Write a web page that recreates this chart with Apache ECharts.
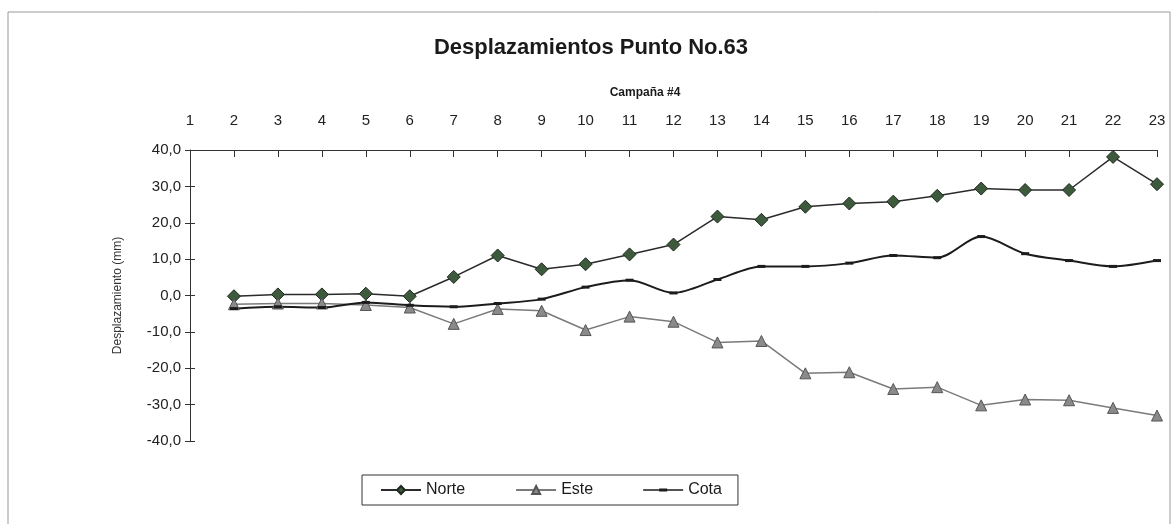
<!DOCTYPE html>
<html>
<head>
<meta charset="utf-8">
<script src="https://cdn.jsdelivr.net/npm/echarts@6/dist/echarts.min.js"></script>
<style>
  html, body { margin: 0; padding: 0; background: #fff; }
  #chart { width: 1173px; height: 524px; }
</style>
</head>
<body>
<div id="chart"></div>
<script>
// datos
var campanas = ['1', '2', '3', '4', '5', '6', '7', '8', '9', '10', '11', '12',
  '13', '14', '15', '16', '17', '18', '19', '20', '21', '22', '23'];
var norte = [null, -0.2, 0.3, 0.3, 0.5, -0.2, 5.1, 11.0, 7.2, 8.6, 11.3, 14.0,
  21.7, 20.8, 24.4, 25.3, 25.8, 27.4, 29.4, 29.0, 29.0, 38.1, 30.6];
var este = [null, -2.4, -2.2, -2.2, -2.6, -3.3, -7.8, -3.7, -4.2, -9.5, -5.8, -7.2,
  -12.9, -12.5, -21.4, -21.1, -25.7, -25.2, -30.2, -28.6, -28.8, -30.9, -33.0];
var cota = [null, -3.6, -3.1, -3.3, -1.9, -2.7, -3.1, -2.2, -1.0, 2.3, 4.2, 0.7,
  4.4, 8.0, 8.0, 8.9, 11.0, 10.4, 16.2, 11.5, 9.6, 8.0, 9.6];

var chart = echarts.init(document.getElementById('chart'));
var fuente = 'Liberation Sans, Arial, sans-serif';

chart.setOption({
  backgroundColor: '#fff',
  animation: false,
  textStyle: { fontFamily: fuente },
  title: [
    {
      text: 'Desplazamientos Punto No.63',
      left: 586, top: 32, textAlign: 'center',
      textStyle: { fontSize: 22, fontWeight: 'bold', color: '#1a1a1a', fontFamily: fuente }
    },
    {
      text: 'Campaña #4',
      left: 640, top: 82, textAlign: 'center',
      textStyle: { fontSize: 12, fontWeight: 'bold', color: '#1a1a1a', fontFamily: fuente }
    }
  ],
  graphic: [{
    type: 'rect',
    shape: { x: 8, y: 12, width: 1162, height: 514 },
    style: { fill: 'none', stroke: '#999', lineWidth: 1 },
    silent: true
  }],
  legend: {
    data: [
      { name: 'Norte' },
      { name: 'Este' },
      // linea con el guion pequeno de la serie
      { name: 'Cota', icon: 'path://M0,4.3 L40,4.3 L40,5.7 L0,5.7 Z M16,3.5 L24,3.5 L24,6.5 L16,6.5 Z' }
    ],
    left: 362, top: 475,
    itemWidth: 40, itemHeight: 10,
    itemGap: 50,
    padding: [7, 16, 7, 18],
    borderColor: '#333', borderWidth: 1,
    textStyle: { fontSize: 16, color: '#1a1a1a', fontFamily: fuente }
  },
  grid: { left: 190, right: 16, top: 150, bottom: 83 },
  xAxis: {
    type: 'category',
    data: campanas,
    position: 'top',
    boundaryGap: false,
    axisLine: { onZero: false, lineStyle: { color: '#333', width: 1 } },
    axisTick: { inside: true, length: 7, lineStyle: { color: '#333' } },
    axisLabel: { fontSize: 15, color: '#222', margin: 22 },
    splitLine: { show: false }
  },
  yAxis: [
    {
      type: 'value',
      min: -40, max: 40, interval: 10,
      name: 'Desplazamiento (mm)',
      nameLocation: 'middle',
      nameGap: 66,
      nameTextStyle: { fontSize: 12, color: '#333' },
      axisLine: { show: true, lineStyle: { color: '#333' } },
      axisTick: { show: true, length: 5, lineStyle: { color: '#333' } },
      axisLabel: {
        fontSize: 15, color: '#222', margin: 9,
        formatter: function (v) { return v.toFixed(1).replace('.', ','); }
      },
      splitLine: { show: false }
    },
    {
      type: 'value',
      position: 'left',
      min: -40, max: 40, interval: 10,
      axisLine: { show: false },
      axisTick: { show: true, inside: true, length: 5, lineStyle: { color: '#333' } },
      axisLabel: { show: false },
      splitLine: { show: false }
    }
  ],
  series: [
    {
      name: 'Norte',
      type: 'line',
      data: norte,
      symbol: 'diamond',
      symbolSize: 13,
      lineStyle: { color: '#2b2b2b', width: 1.5 },
      itemStyle: { color: '#3e5a3c', borderColor: '#1e2a1e', borderWidth: 1 }
    },
    {
      name: 'Este',
      type: 'line',
      data: este,
      symbol: 'triangle',
      symbolSize: 11,
      lineStyle: { color: '#7a7a7a', width: 1.5 },
      itemStyle: { color: '#8a8a8a', borderColor: '#555', borderWidth: 1 }
    },
    {
      name: 'Cota',
      type: 'line',
      data: cota,
      smooth: 0.3,
      symbol: 'rect',
      symbolSize: [8, 3],
      lineStyle: { color: '#1c1c1c', width: 2 },
      itemStyle: { color: '#1c1c1c' }
    }
  ]
});
</script>
</body>
</html>
